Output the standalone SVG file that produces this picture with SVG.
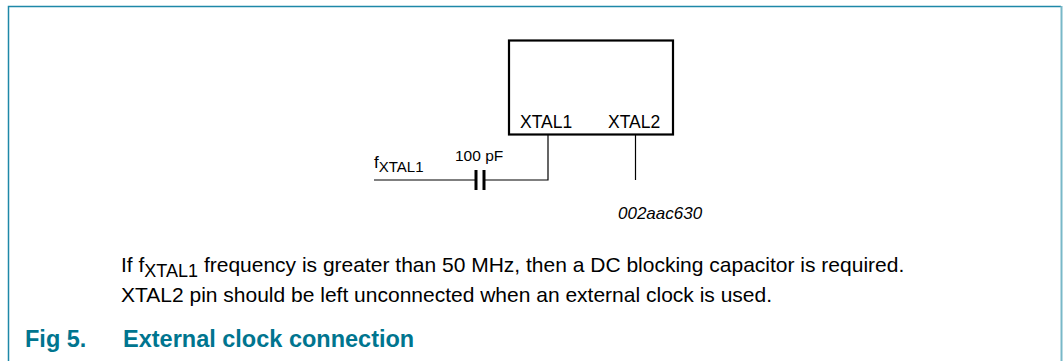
<svg xmlns="http://www.w3.org/2000/svg" width="1063" height="361" viewBox="0 0 1063 361">
<style>
.t{font-family:"Liberation Sans",Arial,sans-serif;fill:#000}
.w{stroke:#000;stroke-width:1.2;fill:none}
.cap{font-family:"Liberation Sans",Arial,sans-serif;font-weight:bold;font-size:23.5px;fill:#00758f}
</style>
<rect width="1063" height="361" fill="#fff"/>
<g id="frame">
<path d="M8.5,361 V6.5 H1061" stroke="#1e88a8" stroke-width="1.5" fill="none"/>
<line x1="1061.5" y1="6" x2="1061.5" y2="361" stroke="#78b8c8" stroke-width="2"/>
</g>
<g id="chip">
<rect x="509" y="40.5" width="164" height="94" fill="none" stroke="#000" stroke-width="2.2"/>
<text class="t" x="520" y="128" font-size="17.5">XTAL1</text>
<text class="t" x="608" y="128" font-size="17.5">XTAL2</text>
</g>
<g id="capacitor">
<line x1="476" y1="170" x2="476" y2="190" stroke="#000" stroke-width="3"/>
<line x1="484" y1="170" x2="484" y2="190" stroke="#000" stroke-width="3"/>
<text class="t" x="455" y="161" font-size="15.5">100 pF</text>
</g>
<g id="input">
<text class="t" x="374" y="168" font-size="17">f<tspan font-size="15" dy="4">XTAL1</tspan></text>
</g>
<g id="connectors">
<path class="w" d="M374,180 H476 M484,180 H548 V135"/>
<line class="w" x1="635.5" y1="135" x2="635.5" y2="180"/>
</g>
<text class="t" x="618" y="219" font-size="17" font-style="italic">002aac630</text>
<text class="t" x="121" y="272" font-size="21">If f<tspan font-size="18" dy="5">XTAL1</tspan><tspan dy="-5"> frequency is greater than 50 MHz, then a DC blocking capacitor is required.</tspan></text>
<text class="t" x="121" y="302" font-size="21">XTAL2 pin should be left unconnected when an external clock is used.</text>
<text class="cap" x="25" y="347">Fig 5.</text>
<text class="cap" x="123" y="347">External clock connection</text>
</svg>
